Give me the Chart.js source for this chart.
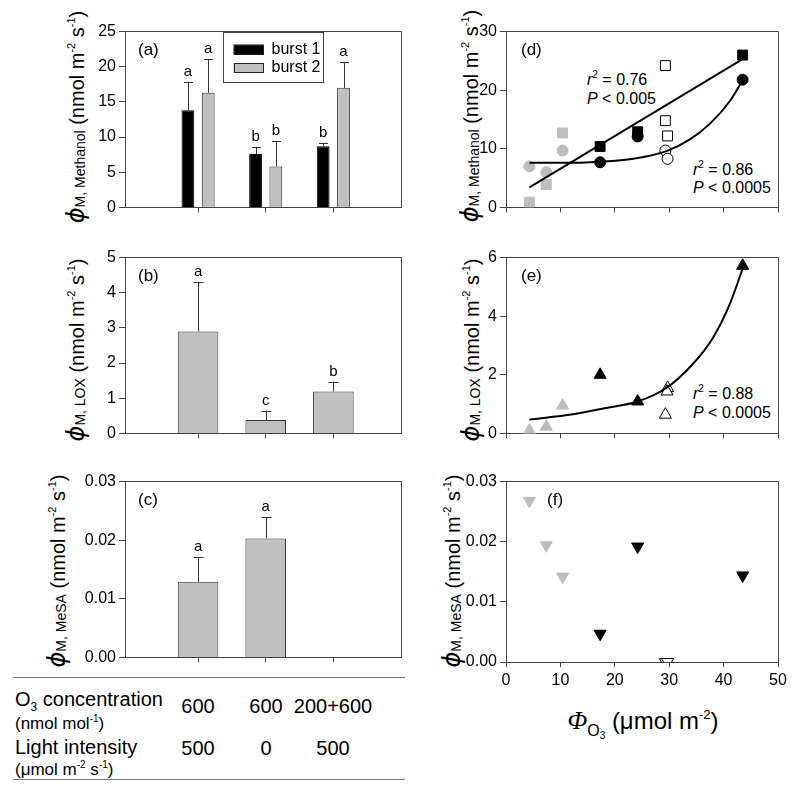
<!DOCTYPE html>
<html>
<head>
<meta charset="utf-8">
<script src="https://cdn.jsdelivr.net/npm/chart.js@4.4.1/dist/chart.umd.min.js"></script>
<style>
  body { margin: 0; background: #fff; }
  #fig { position: relative; width: 800px; height: 793px; overflow: hidden; font-family: "Liberation Sans", Arial, sans-serif; color: #000; }
  canvas { position: absolute; }
  .ytitle { position: absolute; white-space: nowrap; font-size: 20px; line-height: 1; transform: translate(-50%, -50%) rotate(-90deg); }
  .ytitle sub { font-size: 14px; vertical-align: -1px; }
  .ytitle sup, .xtitle sup { font-size: 11px; vertical-align: 9px; }
  .phi { font-family: "DejaVu Sans", sans-serif; font-style: italic; font-size: 24px; }
  .xtitle { position: absolute; white-space: nowrap; font-size: 24px; line-height: 1; transform: translateX(-50%); }
  .xtitle .big { font-family: "Liberation Serif", serif; font-style: italic; font-size: 26px; }
  .xtitle sub { font-size: 16px; vertical-align: -7px; }
  .xtitle sub sub { font-size: 10px; vertical-align: -3px; }
  .xtitle sup { font-size: 13px; vertical-align: 10px; }
  .note { position: absolute; white-space: nowrap; font-size: 16px; line-height: 1; }
  .note sup { font-size: 10px; vertical-align: 7px; }
  .tbl { position: absolute; white-space: nowrap; line-height: 1; }
  .tbl.main { font-size: 20px; }
  .tbl.unit { font-size: 17px; }
  .tbl.unit sup { font-size: 10px; vertical-align: 7px; }
  .tbl sub { font-size: 12px; vertical-align: -5px; }
  .tbl.val { font-size: 20px; transform: translateX(-50%); }
  .rule { position: absolute; left: 13px; width: 392px; height: 1px; background: #777; }
</style>
</head>
<body>
<div id="fig">
  <div class="ytitle" style="left:76px;top:117px"><span class="phi">ϕ</span><sub>M, Methanol</sub> (nmol m<sup>-2</sup> s<sup>-1</sup>)</div>
  <div class="ytitle" style="left:76px;top:350px"><span class="phi">ϕ</span><sub>M, LOX</sub> (nmol m<sup>-2</sup> s<sup>-1</sup>)</div>
  <div class="ytitle" style="left:57px;top:571px"><span class="phi">ϕ</span><sub>M, MeSA</sub> (nmol m<sup>-2</sup> s<sup>-1</sup>)</div>
  <div class="ytitle" style="left:470px;top:116px"><span class="phi">ϕ</span><sub>M, Methanol</sub> (nmol m<sup>-2</sup> s<sup>-1</sup>)</div>
  <div class="ytitle" style="left:471px;top:350px"><span class="phi">ϕ</span><sub>M, LOX</sub> (nmol m<sup>-2</sup> s<sup>-1</sup>)</div>
  <div class="ytitle" style="left:452px;top:571px"><span class="phi">ϕ</span><sub>M, MeSA</sub> (nmol m<sup>-2</sup> s<sup>-1</sup>)</div>

  <div class="xtitle" style="left:643px;top:708px"><span class="big">Φ</span><sub>O<sub>3</sub></sub> (μmol m<sup>-2</sup>)</div>

  <div class="note" style="left:587px;top:70px"><i>r</i><sup>2</sup> = 0.76</div>
  <div class="note" style="left:587px;top:91px"><i>P</i> &lt; 0.005</div>
  <div class="note" style="left:693px;top:160px"><i>r</i><sup>2</sup> = 0.86</div>
  <div class="note" style="left:693px;top:180px"><i>P</i> &lt; 0.0005</div>
  <div class="note" style="left:693px;top:384px"><i>r</i><sup>2</sup> = 0.88</div>
  <div class="note" style="left:693px;top:405px"><i>P</i> &lt; 0.0005</div>

  <div class="rule" style="top:677px"></div>
  <div class="tbl main" style="left:15px;top:689px">O<sub>3</sub> concentration</div>
  <div class="tbl unit" style="left:15px;top:714px">(nmol mol<sup>-1</sup>)</div>
  <div class="tbl main" style="left:15px;top:737px">Light intensity</div>
  <div class="tbl unit" style="left:15px;top:760px">(μmol m<sup>-2</sup> s<sup>-1</sup>)</div>
  <div class="rule" style="top:779px"></div>
</div>

<script>
// --- data ---
const treatments = ['600 / 500', '600 / 0', '200+600 / 500'];
const o3Conc = ['600', '600', '200+600'];
const lightLevel = ['500', '0', '500'];

// (a) methanol burst emissions, mean and SE
const methanolBurst1 = [13.8, 7.6, 8.7];
const methanolBurst1SE = [4.1, 1.0, 0.4];
const methanolBurst1Sig = ['a', 'b', 'b'];
const methanolBurst2 = [16.3, 5.8, 17.0];
const methanolBurst2SE = [4.8, 3.6, 3.7];
const methanolBurst2Sig = ['a', 'b', 'a'];

// (b) LOX
const loxMean = [2.9, 0.38, 1.19];
const loxSE = [1.41, 0.27, 0.28];
const loxSig = ['a', 'c', 'b'];

// (c) MeSA
const mesaMean = [0.0129, 0.0203, null];
const mesaSE = [0.0042, 0.0036, null];
const mesaSig = ['a', 'a', ''];

// stomatal O3 flux (x) of the individual leaves
const fluxGrey = [4.3, 7.4, 10.4];
const fluxBlack = [17.3, 24.2, 43.5];

// (d) methanol vs O3 flux
const dGreyCircle = [7.0, 6.0, 9.7];
const dGreySquare = [0.9, 3.9, 12.7];
const dBlackCircle = [7.7, 12.1, 21.8];
const dBlackSquare = [10.4, 12.9, 26.0];
const dOpenSquareX = [29.3, 29.3, 29.7];
const dOpenSquareY = [24.2, 14.8, 12.2];
const dOpenCircleX = [29.3, 29.7];
const dOpenCircleY = [9.7, 8.3];
const dFitLineX = [4.3, 43.5];
const dFitLineY = [3.4, 25.3];
const dFitCurveX = [4.3, 10, 17.3, 23.4, 29.5, 33.8, 37.5, 41.2, 43.5];
const dFitCurveY = [7.6, 7.6, 7.8, 8.3, 9.6, 11.6, 14.3, 18.2, 21.7];

// (e) LOX vs O3 flux
const eGreyTri = [0.1, 0.23, 0.95];
const eBlackTri = [2.0, 1.09, 5.72];
const eOpenTriX = [29.7, 29.6, 29.3];
const eOpenTriY = [1.55, 1.43, 0.64];
const eFitCurveX = [4.3, 12.3, 18.4, 24.2, 29.4, 34.3, 38, 41, 43.5];
const eFitCurveY = [0.47, 0.65, 0.87, 1.09, 1.54, 2.36, 3.25, 4.35, 5.62];

// (f) MeSA vs O3 flux
const fGreyTri = [0.0268, 0.0194, 0.0142];
const fBlackTri = [0.0047, 0.0192, 0.0144];
const fOpenTriX = [29.3, 29.7];
const fOpenTriY = [0, 0];

// --- style ---
const FONT = '"Liberation Sans", Arial, sans-serif';
const AXIS = '#444';
const GREY = '#bdbdbd';
const BARGREY = '#c0c0c0';
Chart.defaults.font.family = FONT;
Chart.defaults.font.size = 16;
Chart.defaults.color = '#000';
Chart.defaults.animation = false;
Chart.defaults.plugins.legend.display = false;
Chart.defaults.plugins.tooltip.enabled = false;

const fig = document.getElementById('fig');
const Y_W = 60, PAD_T = 12, PAD_R = 16;

function makeCanvas(x, y, w, h, bottom) {
  const c = document.createElement('canvas');
  c.width = w + Y_W + PAD_R;
  c.height = h + PAD_T + bottom;
  c.style.left = (x - Y_W) + 'px';
  c.style.top = (y - PAD_T) + 'px';
  fig.appendChild(c);
  return c;
}

// treatments sit at positions 1..3 of a numeric x axis
const catPos = treatments.map((t, i) => i + 1);
const bars = vals => vals.map((v, i) => ({ x: catPos[i], y: v }));
const xy = (xs, ys) => xs.map((x, i) => ({ x: x, y: ys[i] }));

function yScale(min, max, step, dec) {
  return {
    min: min, max: max,
    ticks: { stepSize: step, padding: 3, callback: v => v.toFixed(dec) },
    grid: { drawOnChartArea: false, tickLength: 6, color: AXIS },
    border: { color: AXIS },
    afterFit: s => { s.width = Y_W; }
  };
}

function barXScale() {
  return {
    type: 'linear', min: -0.08, max: 4, offset: false,
    ticks: { display: false },
    afterBuildTicks: s => { s.ticks = catPos.map(v => ({ value: v })); },
    grid: { offset: false, drawOnChartArea: false, tickLength: 5, color: AXIS },
    border: { color: AXIS },
    afterFit: s => { s.height = 8; }
  };
}

function fluxXScale(showLabels) {
  return {
    type: 'linear', min: 0, max: 50,
    ticks: { display: showLabels, stepSize: 10, padding: 4 },
    grid: { drawOnChartArea: false, tickLength: 5, color: AXIS },
    border: { color: AXIS },
    afterFit: s => { s.height = showLabels ? 34 : 8; }
  };
}

// top/right frame lines and the panel letter
const frame = {
  id: 'frame',
  afterDraw(chart, args, o) {
    const { ctx, chartArea: a } = chart;
    const al = p => Math.round(p - 0.5) + 0.5;
    ctx.save();
    ctx.strokeStyle = AXIS;
    ctx.lineWidth = 1;
    ctx.beginPath();
    ctx.moveTo(al(a.left), al(a.top));
    ctx.lineTo(al(a.right), al(a.top));
    ctx.lineTo(al(a.right), al(a.bottom));
    ctx.stroke();
    ctx.fillStyle = '#000';
    ctx.font = '17px ' + FONT;
    ctx.textBaseline = 'middle';
    ctx.fillText(o.label, a.left + (o.dx || 13), a.top + 19);
    ctx.restore();
  }
};

// upward SE bars with significance letters
const errorBars = {
  id: 'errorBars',
  afterDatasetsDraw(chart) {
    const ctx = chart.ctx;
    const ys = chart.scales.y;
    chart.data.datasets.forEach((ds, i) => {
      if (!ds.se) return;
      chart.getDatasetMeta(i).data.forEach((bar, j) => {
        const v = ds.data[j].y;
        if (v == null) return;
        const top = ys.getPixelForValue(v + ds.se[j]);
        const cap = Math.min(10, bar.width * 0.7) / 2;
        const bx = Math.round(bar.x) + 0.5;
        ctx.save();
        ctx.strokeStyle = '#333';
        ctx.lineWidth = 1;
        ctx.beginPath();
        ctx.moveTo(bx, bar.y);
        ctx.lineTo(bx, top);
        ctx.moveTo(bx - cap, Math.round(top) + 0.5);
        ctx.lineTo(bx + cap, Math.round(top) + 0.5);
        ctx.stroke();
        ctx.fillStyle = '#000';
        ctx.font = '15px ' + FONT;
        ctx.textAlign = 'center';
        ctx.textBaseline = 'alphabetic';
        ctx.fillText(ds.sig[j], bar.x, top - 6);
        ctx.restore();
      });
    });
  }
};

// boxed legend inside panel (a)
const boxLegend = {
  id: 'boxLegend',
  afterDraw(chart, args, o) {
    if (!o.show) return;
    const { ctx, chartArea: a } = chart;
    const x0 = Math.round(a.left + o.x) + 0.5, y0 = Math.round(a.top) + 0.5;
    ctx.save();
    ctx.strokeStyle = AXIS;
    ctx.lineWidth = 1;
    ctx.strokeRect(x0, y0, o.w, o.h);
    chart.data.datasets.forEach((ds, i) => {
      const yy = y0 + 12 + i * 18.5;
      ctx.fillStyle = ds.backgroundColor;
      ctx.fillRect(x0 + 10, yy, 30, 10);
      ctx.strokeStyle = '#222';
      ctx.strokeRect(Math.round(x0 + 10) + 0.5, Math.round(yy) + 0.5, 29, 9);
      ctx.fillStyle = '#000';
      ctx.font = '16px ' + FONT;
      ctx.textBaseline = 'middle';
      ctx.fillText(ds.label, x0 + 48, yy + 5);
    });
    ctx.restore();
  }
};

const LEFT_X = 125, LEFT_W = 276, RIGHT_X = 506, RIGHT_W = 272;
const ROWS = [31, 257, 481], ROW_H = 181;

function barChart(row, label, datasets, yOpts, extra) {
  const c = makeCanvas(LEFT_X, ROWS[row], LEFT_W, ROW_H, 8);
  return new Chart(c, {
    type: 'bar',
    data: { datasets: datasets },
    options: {
      responsive: false,
      layout: { padding: { left: 0, top: PAD_T, right: PAD_R, bottom: 0 } },
      scales: { x: barXScale(), y: yOpts },
      plugins: Object.assign({ frame: { label: label } }, extra || {})
    },
    plugins: [errorBars, frame, boxLegend]
  });
}

// (a)
barChart(0, '(a)', [
  { label: 'burst 1', data: bars(methanolBurst1), se: methanolBurst1SE, sig: methanolBurst1Sig,
    backgroundColor: '#000', borderColor: '#000', borderWidth: 1, categoryPercentage: 0.6, barPercentage: 0.63 },
  { label: 'burst 2', data: bars(methanolBurst2), se: methanolBurst2SE, sig: methanolBurst2Sig,
    backgroundColor: BARGREY, borderColor: '#333', borderWidth: 1, categoryPercentage: 0.6, barPercentage: 0.63 }
], yScale(0, 25, 5, 0), { boxLegend: { show: true, x: 98, w: 100, h: 50 } });

// (b)
barChart(1, '(b)', [
  { label: 'LOX', data: bars(loxMean), se: loxSE, sig: loxSig,
    backgroundColor: BARGREY, borderColor: '#333', borderWidth: 1, categoryPercentage: 0.6, barPercentage: 1.0 }
], yScale(0, 5, 1, 0));

// (c)
barChart(2, '(c)', [
  { label: 'MeSA', data: bars(mesaMean), se: mesaSE, sig: mesaSig,
    backgroundColor: BARGREY, borderColor: '#333', borderWidth: 1, categoryPercentage: 0.6, barPercentage: 1.0 }
], yScale(0, 0.03, 0.01, 2));

// scatter panels
function marker(data, style, fill, stroke, radius, rotation) {
  return {
    data: data, pointStyle: style, pointRadius: radius, pointRotation: rotation || 0,
    backgroundColor: fill, borderColor: stroke, pointBorderWidth: 1, showLine: false
  };
}
function fitLine(data) {
  return {
    data: data, showLine: true, pointRadius: 0, borderColor: '#000', borderWidth: 2,
    cubicInterpolationMode: 'monotone', fill: false
  };
}
function scatterChart(row, label, datasets, yOpts, showX, dx) {
  const c = makeCanvas(RIGHT_X, ROWS[row], RIGHT_W, ROW_H, showX ? 34 : 8);
  return new Chart(c, {
    type: 'scatter',
    data: { datasets: datasets },
    options: {
      responsive: false,
      layout: { padding: { left: 0, top: PAD_T, right: PAD_R, bottom: 0 } },
      scales: { x: fluxXScale(showX), y: yOpts },
      plugins: { frame: { label: label, dx: dx } }
    },
    plugins: [frame]
  });
}

// (d)
scatterChart(0, '(d)', [
  fitLine(xy(dFitLineX, dFitLineY)),
  fitLine(xy(dFitCurveX, dFitCurveY)),
  marker(xy(fluxBlack, dBlackCircle), 'circle', '#000', '#000', 5.5),
  marker(xy(fluxBlack, dBlackSquare), 'rect', '#000', '#000', 7),
  marker(xy(dOpenCircleX, dOpenCircleY), 'circle', '#fff', '#000', 5.5),
  marker(xy(dOpenSquareX, dOpenSquareY), 'rect', '#fff', '#000', 7),
  marker(xy(fluxGrey, dGreyCircle), 'circle', GREY, GREY, 5.5),
  marker(xy(fluxGrey, dGreySquare), 'rect', GREY, GREY, 7)
], yScale(0, 30, 10, 0), false, 15);

// (e)
scatterChart(1, '(e)', [
  marker(xy(fluxBlack, eBlackTri), 'triangle', '#000', '#000', 7),
  fitLine(xy(eFitCurveX, eFitCurveY)),
  marker(xy(eOpenTriX, eOpenTriY), 'triangle', '#fff', '#000', 7),
  marker(xy(fluxGrey, eGreyTri), 'triangle', GREY, GREY, 7)
], yScale(0, 6, 2, 0), false, 15);

// (f)
scatterChart(2, '(f)', [
  marker(xy(fluxBlack, fBlackTri), 'triangle', '#000', '#000', 7, 180),
  marker(xy(fOpenTriX, fOpenTriY), 'triangle', '#fff', '#000', 7, 180),
  marker(xy(fluxGrey, fGreyTri), 'triangle', GREY, GREY, 7, 180)
], yScale(0, 0.03, 0.01, 2), true, 41);

// treatment table under the bar panels, aligned to the category ticks
const colX = [198, 266, 333];
function tableRow(values, top) {
  values.forEach((t, i) => {
    const d = document.createElement('div');
    d.className = 'tbl val';
    d.style.left = colX[i] + 'px';
    d.style.top = top + 'px';
    d.textContent = t;
    fig.appendChild(d);
  });
}
tableRow(o3Conc, 696);
tableRow(lightLevel, 738);
</script>
</body>
</html>
